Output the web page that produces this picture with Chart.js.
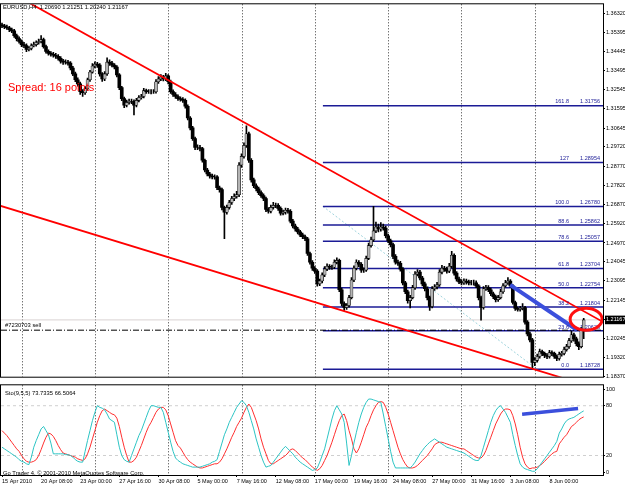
<!DOCTYPE html>
<html>
<head>
<meta charset="utf-8">
<script src="https://cdn.jsdelivr.net/npm/chart.js@4.4.1/dist/chart.umd.min.js"></script>
<style>
  body { margin: 0; background: #fff; }
  #wrap { position: relative; width: 625px; height: 488px; }
  canvas { position: absolute; left: 0; }
  #main { top: 0; }
  #sto { top: 381px; }
</style>
</head>
<body>
<div id="wrap">
  <canvas id="main" width="625" height="381"></canvas>
  <canvas id="sto" width="625" height="107"></canvas>
</div>
<script>
// EURUSD H4, one bar per 4 hours, bar 0 = 15 Apr 2010 16:00
const timeLabels = ['15 Apr 2010', '20 Apr 08:00', '23 Apr 00:00', '27 Apr 16:00', '30 Apr 08:00', '5 May 00:00', '7 May 16:00',
  '12 May 08:00', '17 May 00:00', '19 May 16:00', '24 May 08:00', '27 May 00:00', '31 May 16:00', '3 Jun 08:00', '8 Jun 00:00'];
const timeIdx = [0, 16, 32, 48, 64, 80, 96, 112, 128, 144, 160, 176, 192, 208, 224];
const weekIdx = [8, 38, 68, 98, 128, 158, 188, 218];

const priceTicks = [1.36320, 1.35395, 1.34445, 1.33495, 1.32545, 1.31595, 1.30645, 1.29720, 1.28770, 1.27820,
  1.26870, 1.25920, 1.24970, 1.24045, 1.23095, 1.22145, 1.21167, 1.20245, 1.19320, 1.18370];
const stoTicks = [0, 20, 80, 100];

const opens = [
  1.3575,1.3570,1.3565,1.3561,1.3551,1.3546,1.3522,1.3507,1.3493,1.3478,
  1.3473,1.3454,1.3459,1.3473,1.3478,1.3488,1.3493,1.3502,1.3468,1.3444,
  1.3434,1.3430,1.3425,1.3420,1.3410,1.3396,1.3391,1.3391,1.3386,1.3362,
  1.3333,1.3304,1.3284,1.3245,1.3240,1.3260,1.3304,1.3342,1.3372,1.3381,
  1.3376,1.3333,1.3308,1.3333,1.3391,1.3386,1.3376,1.3367,1.3328,1.3265,
  1.3211,1.3178,1.3192,1.3197,1.3197,1.3178,1.3202,1.3216,1.3221,1.3250,
  1.3245,1.3245,1.3245,1.3245,1.3294,1.3308,1.3318,1.3308,1.3323,1.3294,
  1.3245,1.3231,1.3221,1.3211,1.3207,1.3202,1.3173,1.3115,1.3066,1.3013,
  1.2969,1.2969,1.2964,1.2906,1.2858,1.2838,1.2828,1.2824,1.2824,1.2770,
  1.2761,1.2673,1.2649,1.2673,1.2697,1.2717,1.2727,1.2736,1.2882,1.2925,
  1.2979,1.3037,1.2906,1.2809,1.2780,1.2765,1.2746,1.2731,1.2717,1.2663,
  1.2654,1.2673,1.2683,1.2683,1.2668,1.2644,1.2649,1.2659,1.2654,1.2605,
  1.2581,1.2566,1.2552,1.2537,1.2528,1.2518,1.2445,1.2402,1.2372,1.2358,
  1.2295,1.2309,1.2339,1.2368,1.2382,1.2377,1.2377,1.2402,1.2411,1.2266,
  1.2198,1.2178,1.2188,1.2227,1.2314,1.2372,1.2402,1.2392,1.2363,1.2363,
  1.2421,1.2484,1.2513,1.2557,1.2576,1.2566,1.2576,1.2571,1.2533,1.2508,
  1.2489,1.2431,1.2402,1.2397,1.2368,1.2300,1.2256,1.2212,1.2227,1.2276,
  1.2343,1.2353,1.2324,1.2295,1.2271,1.2227,1.2183,1.2271,1.2280,1.2290,
  1.2353,1.2372,1.2368,1.2358,1.2382,1.2436,1.2348,1.2319,1.2305,1.2300,
  1.2309,1.2305,1.2300,1.2300,1.2300,1.2285,1.2227,1.2178,1.2271,1.2276,
  1.2266,1.2246,1.2232,1.2217,1.2227,1.2256,1.2285,1.2300,1.2309,1.2285,
  1.2203,1.2174,1.2169,1.2174,1.2178,1.2106,1.2048,1.2018,1.1907,1.1917,
  1.1936,1.1960,1.1951,1.1941,1.1936,1.1955,1.1951,1.1936,1.1926,1.1946,
  1.1951,1.1970,1.1985,1.2014,1.2043,1.2023,1.1999,1.1985,1.2069
];
const highs = [
  1.3584,1.3578,1.3574,1.3568,1.3560,1.3553,1.3530,1.3516,1.3501,1.3489,
  1.3481,1.3468,1.3482,1.3490,1.3497,1.3505,1.3522,1.3510,1.3475,1.3452,
  1.3443,1.3439,1.3434,1.3428,1.3418,1.3405,1.3402,1.3400,1.3394,1.3370,
  1.3342,1.3313,1.3292,1.3256,1.3270,1.3312,1.3350,1.3384,1.3392,1.3390,
  1.3384,1.3340,1.3345,1.3412,1.3402,1.3395,1.3384,1.3374,1.3335,1.3272,
  1.3218,1.3203,1.3208,1.3208,1.3205,1.3212,1.3226,1.3232,1.3262,1.3258,
  1.3256,1.3255,1.3256,1.3305,1.3320,1.3330,1.3326,1.3336,1.3330,1.3302,
  1.3254,1.3240,1.3230,1.3220,1.3216,1.3210,1.3180,1.3122,1.3074,1.3020,
  1.2982,1.2980,1.2970,1.2912,1.2866,1.2846,1.2838,1.2834,1.2830,1.2778,
  1.2768,1.2680,1.2684,1.2708,1.2728,1.2740,1.2752,1.2894,1.2938,1.2992,
  1.3076,1.3045,1.2914,1.2818,1.2790,1.2774,1.2755,1.2740,1.2724,1.2672,
  1.2684,1.2698,1.2694,1.2692,1.2676,1.2660,1.2670,1.2668,1.2662,1.2614,
  1.2590,1.2575,1.2560,1.2546,1.2536,1.2525,1.2452,1.2410,1.2380,1.2365,
  1.2318,1.2350,1.2380,1.2394,1.2390,1.2388,1.2414,1.2424,1.2418,1.2274,
  1.2206,1.2198,1.2238,1.2326,1.2384,1.2414,1.2410,1.2400,1.2374,1.2432,
  1.2496,1.2526,1.2678,1.2600,1.2590,1.2598,1.2590,1.2580,1.2540,1.2516,
  1.2496,1.2440,1.2412,1.2406,1.2376,1.2308,1.2264,1.2238,1.2288,1.2356,
  1.2366,1.2362,1.2332,1.2304,1.2280,1.2234,1.2282,1.2292,1.2302,1.2366,
  1.2386,1.2382,1.2378,1.2396,1.2456,1.2444,1.2356,1.2328,1.2316,1.2320,
  1.2318,1.2314,1.2312,1.2314,1.2310,1.2292,1.2234,1.2282,1.2288,1.2286,
  1.2274,1.2254,1.2240,1.2238,1.2268,1.2296,1.2312,1.2326,1.2316,1.2292,
  1.2210,1.2182,1.2184,1.2198,1.2184,1.2114,1.2056,1.2026,1.1930,1.1948,
  1.1972,1.1968,1.1958,1.1950,1.1966,1.1964,1.1958,1.1944,1.1958,1.1962,
  1.1982,1.1996,1.2026,1.2062,1.2052,1.2032,1.2008,1.2080,1.2125
];
const lows = [
  1.3562,1.3556,1.3553,1.3542,1.3537,1.3513,1.3496,1.3485,1.3468,1.3462,
  1.3443,1.3447,1.3451,1.3466,1.3470,1.3480,1.3486,1.3460,1.3436,1.3425,
  1.3421,1.3416,1.3410,1.3401,1.3386,1.3380,1.3381,1.3376,1.3353,1.3324,
  1.3295,1.3272,1.3232,1.3222,1.3232,1.3252,1.3296,1.3336,1.3362,1.3365,
  1.3322,1.3296,1.3300,1.3326,1.3375,1.3367,1.3357,1.3318,1.3255,1.3200,
  1.3166,1.3170,1.3183,1.3186,1.3130,1.3170,1.3194,1.3208,1.3214,1.3236,
  1.3236,1.3234,1.3236,1.3238,1.3286,1.3300,1.3298,1.3300,1.3284,1.3236,
  1.3222,1.3212,1.3202,1.3198,1.3192,1.3164,1.3106,1.3056,1.3004,1.2958,
  1.2958,1.2952,1.2896,1.2848,1.2828,1.2818,1.2814,1.2812,1.2760,1.2748,
  1.2660,1.2518,1.2640,1.2664,1.2688,1.2706,1.2718,1.2726,1.2870,1.2916,
  1.2970,1.2895,1.2798,1.2770,1.2754,1.2736,1.2722,1.2706,1.2652,1.2644,
  1.2646,1.2664,1.2672,1.2658,1.2634,1.2636,1.2640,1.2645,1.2596,1.2572,
  1.2556,1.2542,1.2528,1.2518,1.2508,1.2435,1.2392,1.2362,1.2346,1.2284,
  1.2286,1.2300,1.2330,1.2360,1.2366,1.2366,1.2370,1.2394,1.2256,1.2186,
  1.2164,1.2168,1.2180,1.2220,1.2306,1.2364,1.2380,1.2352,1.2352,1.2356,
  1.2414,1.2476,1.2505,1.2548,1.2552,1.2556,1.2560,1.2522,1.2498,1.2478,
  1.2420,1.2392,1.2386,1.2358,1.2290,1.2246,1.2200,1.2176,1.2220,1.2268,
  1.2334,1.2314,1.2285,1.2260,1.2216,1.2164,1.2176,1.2262,1.2270,1.2282,
  1.2344,1.2356,1.2348,1.2350,1.2374,1.2338,1.2308,1.2296,1.2290,1.2292,
  1.2294,1.2290,1.2290,1.2288,1.2276,1.2216,1.2116,1.2170,1.2262,1.2256,
  1.2236,1.2222,1.2206,1.2208,1.2220,1.2248,1.2278,1.2292,1.2276,1.2194,
  1.2164,1.2160,1.2160,1.2166,1.2096,1.2038,1.2008,1.1873,1.1890,1.1908,
  1.1928,1.1940,1.1930,1.1925,1.1928,1.1940,1.1926,1.1915,1.1918,1.1938,
  1.1944,1.1962,1.1976,1.2006,1.2012,1.1988,1.1970,1.1978,1.2024
];
const closes = [
  1.3570,1.3565,1.3561,1.3551,1.3546,1.3522,1.3507,1.3493,1.3478,1.3473,
  1.3454,1.3459,1.3473,1.3478,1.3488,1.3493,1.3502,1.3468,1.3444,1.3434,
  1.3430,1.3425,1.3420,1.3410,1.3396,1.3391,1.3391,1.3386,1.3362,1.3333,
  1.3304,1.3284,1.3245,1.3240,1.3260,1.3304,1.3342,1.3372,1.3381,1.3376,
  1.3333,1.3308,1.3333,1.3391,1.3386,1.3376,1.3367,1.3328,1.3265,1.3211,
  1.3178,1.3192,1.3197,1.3197,1.3178,1.3202,1.3216,1.3221,1.3250,1.3245,
  1.3245,1.3245,1.3245,1.3294,1.3308,1.3318,1.3308,1.3323,1.3294,1.3245,
  1.3231,1.3221,1.3211,1.3207,1.3202,1.3173,1.3115,1.3066,1.3013,1.2969,
  1.2969,1.2964,1.2906,1.2858,1.2838,1.2828,1.2824,1.2824,1.2770,1.2761,
  1.2673,1.2649,1.2673,1.2697,1.2717,1.2727,1.2736,1.2882,1.2925,1.2979,
  1.3037,1.2906,1.2809,1.2780,1.2765,1.2746,1.2731,1.2717,1.2663,1.2654,
  1.2673,1.2683,1.2683,1.2668,1.2644,1.2649,1.2659,1.2654,1.2605,1.2581,
  1.2566,1.2552,1.2537,1.2528,1.2518,1.2445,1.2402,1.2372,1.2358,1.2295,
  1.2309,1.2339,1.2368,1.2382,1.2377,1.2377,1.2402,1.2411,1.2266,1.2198,
  1.2178,1.2188,1.2227,1.2314,1.2372,1.2402,1.2392,1.2363,1.2363,1.2421,
  1.2484,1.2513,1.2557,1.2576,1.2566,1.2576,1.2571,1.2533,1.2508,1.2489,
  1.2431,1.2402,1.2397,1.2368,1.2300,1.2256,1.2212,1.2227,1.2276,1.2343,
  1.2353,1.2324,1.2295,1.2271,1.2227,1.2183,1.2271,1.2280,1.2290,1.2353,
  1.2372,1.2368,1.2358,1.2382,1.2436,1.2348,1.2319,1.2305,1.2300,1.2309,
  1.2305,1.2300,1.2300,1.2300,1.2285,1.2227,1.2178,1.2271,1.2276,1.2266,
  1.2246,1.2232,1.2217,1.2227,1.2256,1.2285,1.2300,1.2309,1.2285,1.2203,
  1.2174,1.2169,1.2174,1.2178,1.2106,1.2048,1.2018,1.1907,1.1917,1.1936,
  1.1960,1.1951,1.1941,1.1936,1.1955,1.1951,1.1936,1.1926,1.1946,1.1951,
  1.1970,1.1985,1.2014,1.2043,1.2023,1.1999,1.1985,1.2069,1.21167
];

// Stochastic(9,5,5): main (%K) and signal
const stoMain = [
  30,28,26,24,22,20,18,15,13,12,10,9,18,30,38,45,52,55,50,45,35,22,
  22,22,22,22,21,21,20,18,15,13,12,12,25,38,50,62,72,80,
  78,77,75,70,64,62,60,45,30,20,15,13,12,
  20,28,36,44,50,58,66,74,80,80,79,78,78,72,60,
  48,36,25,17,14,12,10,9,8,7,6,6,6,6,7,8,9,10,12,13,15,
  25,35,45,52,60,66,72,78,82,86,84,80,72,62,52,
  40,30,20,12,6,7,8,12,16,20,24,28,31,28,25,22,18,15,12,10,8,
  6,4,2,3,5,12,20,28,40,52,64,74,80,75,70,60,35,8,
  20,35,48,60,70,78,84,88,88,87,86,85,84,70,55,40,25,12,5,
  5,5,5,5,5,5,8,12,17,22,26,30,33,36,38,40,
  38,36,34,32,30,29,28,27,26,25,24,23,21,19,17,15,14,14,20,
  30,40,50,60,68,74,78,80,76,72,66,60,45,32,20,10,6,4,3,2,1,1,
  4,8,12,16,20,24,28,32,37,47,52,58,62,64,65,66,68,70,72,73.73
];
const stoSignal = [
  50,47,44,40,36,32,28,25,20,16,13,12,12,13,15,20,27,35,42,47,46,43,
  38,32,27,23,22,21,20,19,18,16,15,14,16,22,30,40,50,60,
  68,74,76,74,72,70,69,65,55,42,30,20,12,
  12,14,18,25,32,40,48,55,60,66,72,76,78,78,75,
  68,58,48,38,32,29,24,19,15,12,10,8,6,5,5,6,7,8,9,10,10,
  12,16,22,28,35,42,48,55,60,65,72,78,82,78,70,
  62,52,40,30,22,14,10,10,12,14,16,18,20,23,27,28,26,23,20,17,15,
  12,9,6,4,2,4,8,14,20,28,36,45,54,62,68,70,62,50,
  40,28,23,28,36,45,54,60,68,75,80,84,85,84,78,70,60,50,40,
  30,22,15,10,6,5,5,6,8,11,14,17,20,24,28,33,
  35,36,36,35,34,33,32,31,30,29,28,28,26,24,22,20,18,17,17,
  20,26,34,42,50,58,64,70,74,76,76,75,68,58,45,30,18,10,6,4,5,5,
  6,8,10,13,16,19,22,24,25,34,38,42,45,50,55,57,60,63,65,66.51
];

// drawn objects, [bar index, price]
const upperChannel = [[0, 1.3759], [246, 1.2106]];
const lowerChannel = [[-0.8, 1.2681], [246, 1.1768]];
const blueTrend = [[207.9, 1.2290], [235.3, 1.2067]];
const fibLevels = ['0.0', '23.6', '38.2', '50.0', '61.8', '78.6', '88.6', '100.0', '127', '161.8'];
const fibPrices = [1.18728, 1.20628, 1.21804, 1.22754, 1.23704, 1.25057, 1.25862, 1.26780, 1.28954, 1.31756];
const fibStart = 131.3;
const fibDiag = [[131.3, 1.26780], [218.9, 1.18728]];
const orderPrice = 1.2066;
const lastPrice = 1.21167;
const ringCenter = [239, 1.2120];
const stoBlue = [[212.8, 69.8], [235.7, 76.7]];
const stoLevels = [20, 80];

const FONT = '"Liberation Sans", Arial, sans-serif';
Chart.defaults.font.family = FONT;
Chart.defaults.font.size = 5.5;
Chart.defaults.color = '#000';

const X_MIN = -0.41, X_MAX = 245.9;
const pts = arr => arr.map(p => ({ x: p[0], y: p[1] }));

const lineSet = (data, color, width, extra) => Object.assign({
  type: 'line', data: data, borderColor: color, borderWidth: width,
  pointRadius: 0, fill: false, tension: 0, order: 1
}, extra || {});

const bull = closes.map((c, i) => c >= opens[i]);

const mainDatasets = [];
fibPrices.forEach(p => {
  mainDatasets.push(lineSet([{ x: fibStart, y: p }, { x: X_MAX, y: p }], '#1b1b96', 1.5, { order: 8 }));
});
mainDatasets.push(lineSet(pts(fibDiag), '#9fd3dc', 1, { borderDash: [2, 2], order: 8 }));
mainDatasets.push(lineSet([{ x: X_MIN, y: lastPrice }, { x: X_MAX, y: lastPrice }], '#d9d2d2', 1, { order: 9 }));
mainDatasets.push({
  type: 'bar', data: closes.map((c, i) => ({ x: i, y: [lows[i], highs[i]] })),
  backgroundColor: '#000', barThickness: 1, grouped: false, order: 6
});
mainDatasets.push({
  type: 'bar', data: closes.map((c, i) => ({ x: i, y: [opens[i], c] })),
  backgroundColor: bull.map(b => b ? '#b4b4b4' : '#000'),
  borderColor: '#000', borderWidth: bull.map(b => b ? 0.6 : 0), borderSkipped: false,
  barThickness: 3, grouped: false, order: 5
});
mainDatasets.push(lineSet([{ x: X_MIN, y: orderPrice }, { x: X_MAX, y: orderPrice }], '#000', 1, { borderDash: [6, 2, 1, 2], order: 2 }));
mainDatasets.push(lineSet(pts(upperChannel), '#ff0000', 1.8));
mainDatasets.push(lineSet(pts(lowerChannel), '#ff0000', 1.8));
mainDatasets.push(lineSet(pts(blueTrend), '#3b4fdc', 4, { order: 0 }));

function drawWeekLines(chart) {
  const { ctx, chartArea: a, scales: { x } } = chart;
  ctx.save();
  ctx.strokeStyle = '#3a3a3a';
  ctx.lineWidth = 1;
  ctx.setLineDash([1, 2]);
  weekIdx.forEach(i => {
    const px = Math.round(x.getPixelForValue(i)) + 0.5;
    ctx.beginPath();
    ctx.moveTo(px, a.top);
    ctx.lineTo(px, a.bottom);
    ctx.stroke();
  });
  ctx.restore();
}

function drawFrame(chart) {
  const { ctx, chartArea: a } = chart;
  ctx.save();
  ctx.strokeStyle = '#000';
  ctx.lineWidth = 1;
  ctx.strokeRect(a.left - 0.5, a.top - 0.5, a.right - a.left + 1, a.bottom - a.top + 1);
  ctx.restore();
}

const mainDecor = {
  id: 'mainDecor',
  beforeDatasetsDraw(chart) { drawWeekLines(chart); },
  afterDatasetsDraw(chart) {
    const { ctx, chartArea: a, scales: { x, y } } = chart;
    ctx.save();
    // fibonacci labels
    ctx.fillStyle = '#1b1b96';
    ctx.font = '5.5px ' + FONT;
    ctx.textBaseline = 'bottom';
    ctx.textAlign = 'right';
    fibPrices.forEach((p, k) => {
      const py = y.getPixelForValue(p) - 1;
      ctx.fillText(fibLevels[k], a.right - 34, py);
      ctx.fillText(p.toFixed(5), a.right - 3, py);
    });
    // ring around the touch point
    ctx.strokeStyle = '#ff1010';
    ctx.lineWidth = 3;
    ctx.beginPath();
    ctx.ellipse(x.getPixelForValue(ringCenter[0]), y.getPixelForValue(ringCenter[1]), 16, 11, 0, 0, Math.PI * 2);
    ctx.stroke();
    // texts
    ctx.textAlign = 'left';
    ctx.textBaseline = 'middle';
    ctx.fillStyle = '#000';
    ctx.font = '5.8px ' + FONT;
    ctx.fillText('EURUSD,H4  1.20690 1.21251 1.20240 1.21167', 3, 7);
    ctx.fillText('#7230703 sell', 5, y.getPixelForValue(orderPrice) - 5);
    ctx.fillStyle = '#ff0000';
    ctx.font = '11px ' + FONT;
    ctx.fillText('Spread: 16 points', 8, 88);
    ctx.restore();
    drawFrame(chart);
  }
};

new Chart(document.getElementById('main'), {
  type: 'bar',
  data: { datasets: mainDatasets },
  options: {
    responsive: false, animation: false, events: [],
    layout: { padding: { left: 1, top: 1, right: 0, bottom: 1 } },
    plugins: { legend: { display: false }, tooltip: { enabled: false } },
    scales: {
      x: { type: 'linear', min: X_MIN, max: X_MAX, offset: false, display: false, grid: { offset: false } },
      y: {
        position: 'right', min: 1.1836, max: 1.3677,
        afterBuildTicks: s => { s.ticks = priceTicks.map(v => ({ value: v })); },
        afterFit: s => { s.width = 22; },
        grid: { drawOnChartArea: false, drawTicks: true, tickLength: 2, tickColor: '#000' },
        border: { color: '#000' },
        ticks: {
          autoSkip: false, padding: 1,
          callback: v => v.toFixed(5),
          color: c => c.tick && c.tick.value === lastPrice ? '#fff' : '#000',
          showLabelBackdrop: true,
          backdropColor: c => c.tick && c.tick.value === lastPrice ? '#000' : 'rgba(0,0,0,0)',
          backdropPadding: { top: 1, bottom: 1, left: 1, right: 2 }
        }
      }
    }
  },
  plugins: [mainDecor]
});

const stoDecor = {
  id: 'stoDecor',
  beforeDatasetsDraw(chart) { drawWeekLines(chart); },
  afterDatasetsDraw(chart) {
    const { ctx, chartArea: a } = chart;
    ctx.save();
    ctx.fillStyle = '#000';
    ctx.font = '5.8px ' + FONT;
    ctx.textBaseline = 'middle';
    ctx.fillText('Sto(9,5,5) 73.7335 66.5064', 5, a.top + 8);
    ctx.fillText('Go Trader 4, \u00a9 2001-2010 MetaQuotes Software Corp.', 3, a.bottom - 2);
    ctx.restore();
    drawFrame(chart);
  }
};

const stoDatasets = stoLevels.map(v => lineSet([{ x: X_MIN, y: v }, { x: X_MAX, y: v }], '#cfcfcf', 1, { borderDash: [3, 3], order: 5 }));
stoDatasets.push(lineSet(stoSignal.map((v, i) => ({ x: i, y: v })), '#ff3030', 1, { order: 2 }));
stoDatasets.push(lineSet(stoMain.map((v, i) => ({ x: i, y: v })), '#2cc4c4', 1, { order: 1 }));
stoDatasets.push(lineSet(pts(stoBlue), '#3b4fdc', 3.5, { order: 0 }));

new Chart(document.getElementById('sto'), {
  type: 'line',
  data: { datasets: stoDatasets },
  options: {
    responsive: false, animation: false, events: [],
    layout: { padding: { left: 1, top: 1, right: 0, bottom: 1 } },
    plugins: { legend: { display: false }, tooltip: { enabled: false } },
    scales: {
      x: {
        type: 'linear', min: X_MIN, max: X_MAX, offset: false,
        afterBuildTicks: s => { s.ticks = timeIdx.map(v => ({ value: v })); },
        afterFit: s => { s.height = 12; },
        grid: { drawOnChartArea: false, drawTicks: true, tickLength: 2, tickColor: '#000' },
        border: { color: '#000' },
        ticks: { autoSkip: false, maxRotation: 0, minRotation: 0, align: 'start', padding: 1, callback: (v, i) => timeLabels[i] }
      },
      y: {
        position: 'right', min: -3.5, max: 104.6,
        afterBuildTicks: s => { s.ticks = stoTicks.map(v => ({ value: v })); },
        afterFit: s => { s.width = 22; },
        grid: { drawOnChartArea: false, drawTicks: true, tickLength: 2, tickColor: '#000' },
        border: { color: '#000' },
        ticks: { autoSkip: false, padding: 1, callback: v => String(v) }
      }
    }
  },
  plugins: [stoDecor]
});
</script>
</body>
</html>
